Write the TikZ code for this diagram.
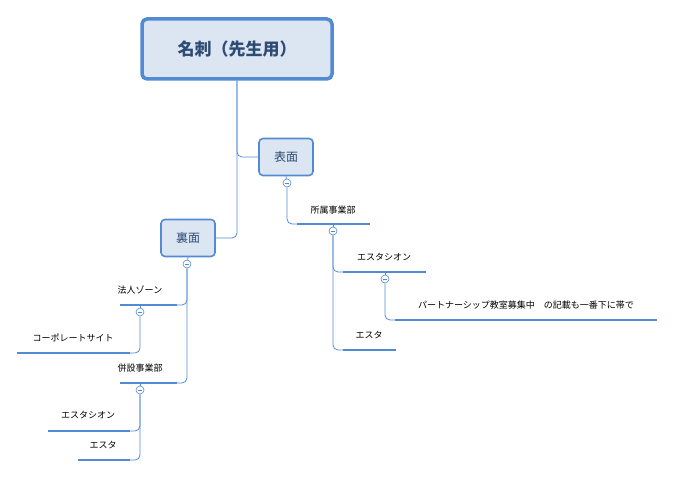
\documentclass[tikz,border=0pt]{standalone}
\usepackage{fontspec}
\setmainfont{Noto Sans CJK JP}
\definecolor{mmblue}{RGB}{82,139,211}
\definecolor{mmfill}{RGB}{220,230,242}
\definecolor{mmtext}{RGB}{45,75,115}
\begin{document}
\begin{tikzpicture}[x=1pt,y=-1pt,
    rootbox/.style={draw=mmblue, line width=3.5pt, fill=mmfill, rounded corners=5pt,
        minimum width=190pt, minimum height=60pt, text=mmtext, font=\fontsize{17}{20}\selectfont\bfseries},
    topic/.style={draw=mmblue, line width=1.6pt, fill=mmfill, rounded corners=4pt,
        minimum width=54pt, minimum height=37pt, text=mmtext, font=\fontsize{12}{14}\selectfont},
    leaf/.style={font=\fontsize{9}{11}\selectfont, inner sep=1pt},
    uline/.style={mmblue, line width=1.6pt},
    conn/.style={mmblue, line width=0.8pt, rounded corners=5pt},
    fold/.style={circle, draw=mmblue, fill=white, line width=0.6pt, inner sep=0pt, minimum size=8pt,
        path picture={\draw[mmblue, line width=0.6pt] ([xshift=-2pt]path picture bounding box.center) -- ([xshift=2pt]path picture bounding box.center);}}
]
\useasboundingbox (0,0) rectangle (675,478);
% nodes
\node[rootbox] (root) at (237,49) {名刺（先生用）};
\node[topic] (front) at (286,157) {表面};
\node[topic] (back) at (188,238) {裏面};
\node[leaf] (dept) at (333,210) {所属事業部};
\node[leaf] (es1) at (384,257) {エスタシオン};
\node[leaf] (pt) at (526,305) {パートナーシップ教室募集中　の記載も一番下に帯で};
\node[leaf] (esta1) at (369,335) {エスタ};
\node[leaf] (corp) at (140,290) {法人ゾーン};
\node[leaf] (site) at (73,338) {コーポレートサイト};
\node[leaf] (sub) at (140,368) {併設事業部};
\node[leaf] (es2) at (88,415) {エスタシオン};
\node[leaf] (esta2) at (103,445) {エスタ};
% underlines
\coordinate (deptL) at (297,224); \coordinate (deptR) at (370,224);
\coordinate (es1L) at (343,272); \coordinate (es1R) at (426,272);
\coordinate (ptL) at (395,320); \coordinate (ptR) at (657,320);
\coordinate (esta1L) at (343,350); \coordinate (esta1R) at (396,350);
\coordinate (corpL) at (120,305); \coordinate (corpR) at (177,305);
\coordinate (siteL) at (17,353); \coordinate (siteR) at (130,353);
\coordinate (subL) at (120,383); \coordinate (subR) at (177,383);
\coordinate (es2L) at (48,431); \coordinate (es2R) at (130,431);
\coordinate (esta2L) at (78,460); \coordinate (esta2R) at (130,460);
\foreach \n in {dept,es1,pt,esta1,corp,site,sub,es2,esta2}
    \draw[uline] (\n L) -- (\n R);
% connectors
\draw[conn] (root.south) |- (front.west);
\draw[conn] (root.south) |- (back.east);
\node[fold] (f1) at (287,183) {};
\node[fold] (f2) at (333,231) {};
\node[fold] (f3) at (385,279) {};
\node[fold] (f4) at (187,264) {};
\node[fold] (f5) at (140,312) {};
\node[fold] (f6) at (140,390) {};
\draw[conn] (f1) |- (deptL);
\draw[conn] (f2) |- (es1L);
\draw[conn] (f2) |- (esta1L);
\draw[conn] (f3) |- (ptL);
\draw[conn] (f4) |- (corpR);
\draw[conn] (f4) |- (subR);
\draw[conn] (f5) |- (siteR);
\draw[conn] (f6) |- (es2R);
\draw[conn] (f6) |- (esta2R);
\draw[mmblue, line width=0.8pt] (front.south) -- (f1) (dept.south -| f2) ++(0,10) (back.south) -- (f4);
\draw[mmblue, line width=0.8pt] (deptL -| f2) -- (f2) (es1L -| f3) -- (f3) (corpL -| f5) -- (f5) (subL -| f6) -- (f6);
\end{tikzpicture}
\end{document}
